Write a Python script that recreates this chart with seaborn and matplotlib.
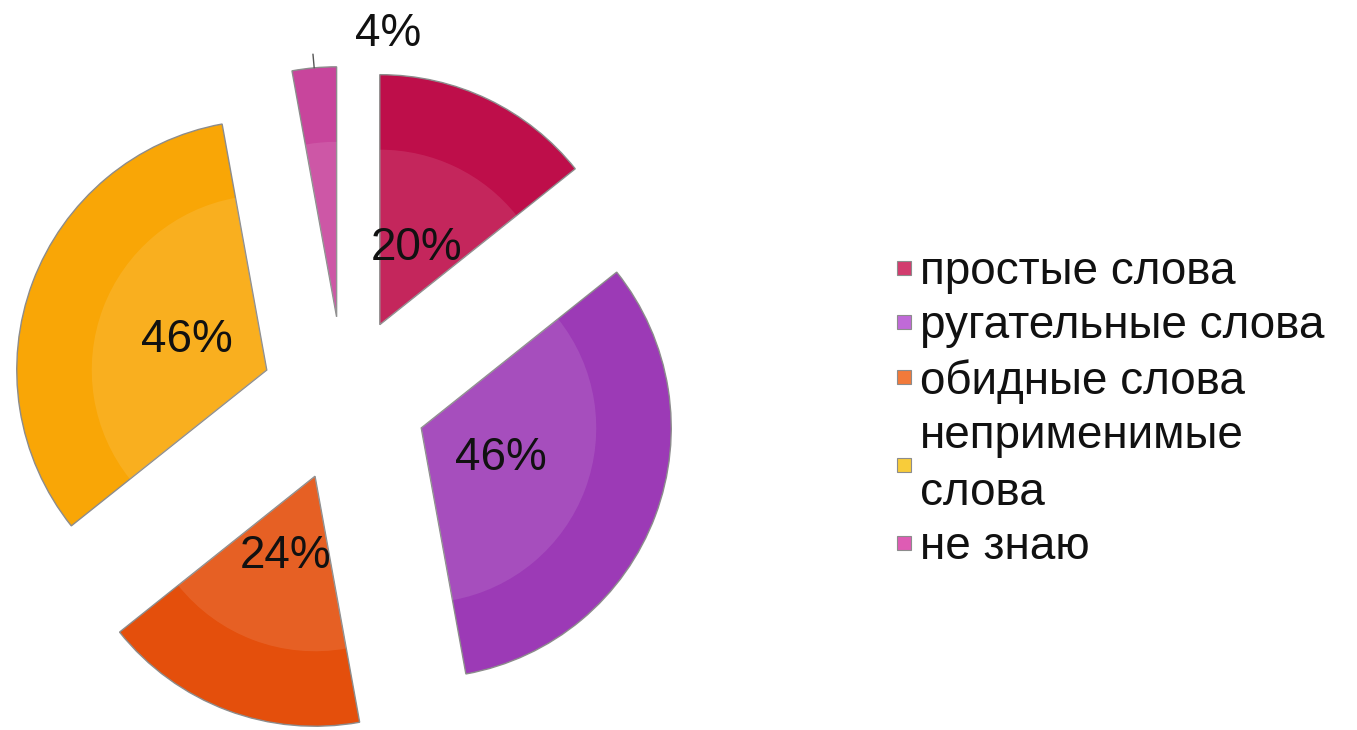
import numpy as np
import matplotlib
matplotlib.use("Agg")
import matplotlib.pyplot as plt
from matplotlib.lines import Line2D
import seaborn as sns

categories = ["простые слова", "ругательные слова", "обидные слова",
              "неприменимые\nслова", "не знаю"]
values = [20, 46, 24, 46, 4]
pct_labels = ["20%", "46%", "24%", "46%", "4%"]
colors = ["#BE0E4A", "#9C3AB6", "#E44F0C", "#F9A606", "#C8459C"]
legend_colors = ["#D23C6E", "#C06AD8", "#F27A3A", "#F8CC3A", "#DE5CB4"]

sns.set_theme(style="white")
plt.rcParams["font.family"] = ["Liberation Sans", "DejaVu Sans"]

fig = plt.figure(figsize=(13.57, 7.30), dpi=100)
# axes box in pixels: x 0..700, y 0..730, pie centre at (344, 399), radius 250 px
ax = fig.add_axes([0, 0, 700 / 1357, 1])

wedges, _ = ax.pie(values, colors=colors, startangle=90, counterclock=False,
                   explode=[0.33] * len(values), radius=1.0,
                   wedgeprops=dict(edgecolor="#8c8c8c", linewidth=1.0))

# soft inner highlight on each slice
for w in wedges:
    hl = matplotlib.patches.Wedge(w.center, 0.7, w.theta1, w.theta2,
                                  facecolor="white", alpha=0.1, edgecolor="none")
    ax.add_patch(hl)

fs = 33
for i, (w, lab) in enumerate(zip(wedges, pct_labels)):
    mid = np.deg2rad((w.theta1 + w.theta2) / 2)
    cx, cy = w.center
    if values[i] >= 10:
        d = 0.34
        ax.text(cx + d * np.cos(mid), cy + d * np.sin(mid), lab, fontsize=fs,
                ha="center", va="center", color="#111111")
    else:
        x0, y0 = cx + 1.0 * np.cos(mid), cy + 1.0 * np.sin(mid)
        x1, y1 = cx + 1.055 * np.cos(mid), cy + 1.055 * np.sin(mid)
        ax.plot([x0, x1], [y0, y1], color="#555555", lw=1)
        ax.text(x1 + 0.17, y1 + 0.08, lab, fontsize=fs, ha="left", va="center",
                color="#111111")

ax.set_xlim(-344 / 250, (700 - 344) / 250)
ax.set_ylim(-(730 - 399) / 250, 399 / 250)
ax.set_aspect("auto")
ax.axis("off")

handles = [Line2D([], [], linestyle="none", marker="s", markersize=9.4,
                  markerfacecolor=c, markeredgecolor="#8c8c8c", markeredgewidth=0.8)
           for c in legend_colors]
leg = fig.legend(handles, categories, loc="upper left", bbox_to_anchor=(0.6605, 0.658),
                 frameon=False, fontsize=fs, handlelength=0.34,
                 handletextpad=0.18, labelspacing=0.23, borderpad=0, borderaxespad=0)
for t in leg.get_texts():
    t.set_linespacing(1.37)
    t.set_color("#111111")

fig.savefig("out.png", dpi=100, facecolor="white")
